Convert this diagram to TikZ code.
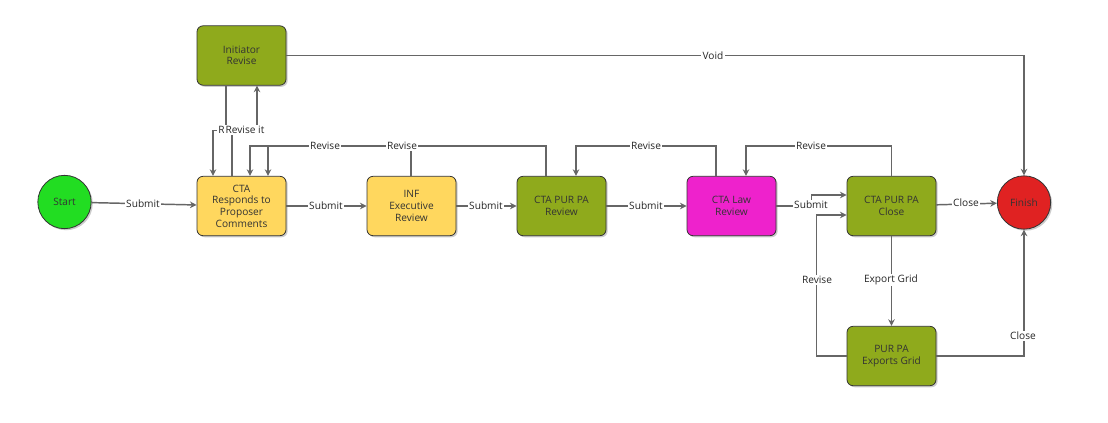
\documentclass[tikz,border=0pt]{standalone}
\usepackage{fontspec}
\setmainfont{Open Sans}
\usetikzlibrary{arrows.meta,shadows,calc}
\definecolor{olive}{HTML}{8FAA1C}
\definecolor{ylw}{HTML}{FFD75E}
\definecolor{mag}{HTML}{EE22CC}
\definecolor{grn}{HTML}{22DD22}
\definecolor{rd}{HTML}{E02222}
\definecolor{ln}{HTML}{666666}
\begin{document}
\begin{tikzpicture}[x=0.75pt,y=-0.75pt,
  font=\fontsize{7.6}{8.7}\selectfont,
  box/.style={draw=black!80, line width=0.6pt, rounded corners=4.5pt,
    minimum width=66.75pt, minimum height=44.5pt, inner sep=1pt, align=center,
    text=black!80, drop shadow={shadow xshift=1.2pt, shadow yshift=-1.2pt, fill=black, opacity=0.2}},
  circ/.style={circle, draw=black!80, line width=0.6pt, minimum size=40pt, inner sep=0pt,
    text=black!80, drop shadow={shadow xshift=1.2pt, shadow yshift=-1.2pt, fill=black, opacity=0.2}},
  conn/.style={draw=ln, line width=1.1pt, -{Stealth[length=5pt,width=5pt]}},
  lbl/.style={fill=white, inner sep=1pt, text=black!85}]
\useasboundingbox[fill=white] (0,0) rectangle (1108,423);

\node[circ, fill=grn] (start) at (64.5,202) {Start};
\node[circ, fill=rd] (finish) at (1024,202.5) {Finish};
\node[box, fill=olive] (init) at (241.5,55.5) {Initiator\\Revise};
\node[box, fill=ylw] (cta) at (241.5,206) {CTA\\Responds to\\Proposer\\Comments};
\node[box, fill=ylw] (inf) at (411.5,206) {INF\\Executive\\Review};
\node[box, fill=olive] (purrev) at (561.5,206) {CTA PUR PA\\Review};
\node[box, fill=mag] (law) at (731.5,206) {CTA Law\\Review};
\node[box, fill=olive] (close) at (891.5,206) {CTA PUR PA\\Close};
\node[box, fill=olive] (grid) at (891.5,356) {PUR PA\\Exports Grid};

% forward connectors
\draw[conn] (start) -- (cta);
\draw[conn] (cta) -- (inf);
\draw[conn] (inf) -- (purrev);
\draw[conn] (purrev) -- (law);
\draw[conn] (law.east) -- ++(35,0) |- ($(close.west)+(0,-11)$);
\draw[conn] (grid.west) -- ++(-30,0) |- ($(close.west)+(0,9)$);
\draw[conn] (close) -- (finish);
\draw[conn] (close) -- (grid);
\draw[conn] (grid.east) -| (finish.south);
\draw[conn] (init.east) -| (finish.north);
% revise loops
\draw[conn] (close.north) -- ++(0,-30) -| ($(law.north)+(14.5,0)$);
\draw[conn] ($(law.north)+(-15.5,0)$) -- ++(0,-30) -| ($(purrev.north)+(14.5,0)$);
\draw[conn] ($(purrev.north)+(-15.5,0)$) -- ++(0,-30) -| ($(cta.north)+(8.5,0)$);
\draw[conn] ($(inf.north)+(-0.5,0)$) -- ++(0,-30) -| ($(cta.north)+(26.5,0)$);
\draw[conn] ($(init.south)+(-15.5,0)$) -- ++(0,45) -| ($(cta.north)+(-28.5,0)$);
\draw[conn] ($(cta.north)+(-9.5,0)$) -- ++(0,-46) -| ($(init.south)+(15.5,0)$);

% labels
\node[lbl] (l1) at (143,204) {Submit};
\node[lbl] (l2) at (326,206) {Submit};
\node[lbl] (l3) at (486,206) {Submit};
\node[lbl] (l4) at (646,206) {Submit};
\node[lbl] (l5) at (811,205) {Submit};
\node[lbl] (l6) at (817,280) {Revise};
\node[lbl] (l7) at (966,203) {Close};
\node[lbl] (l8) at (891,280) {Export Grid};
\node[lbl] (l9) at (1023,336) {Close};
\node[lbl] (l10) at (713,56) {Void};
\node[lbl] (l11) at (811,146) {Revise};
\node[lbl] (l12) at (646,146) {Revise};
\node[lbl] (l13) at (325,146) {Revise};
\node[lbl] (l14) at (402,146) {Revise};
\node[lbl] (l15) at (221.5,130) {R};
\node[lbl] (l16) at (245,130) {Revise it};
\end{tikzpicture}
\end{document}
